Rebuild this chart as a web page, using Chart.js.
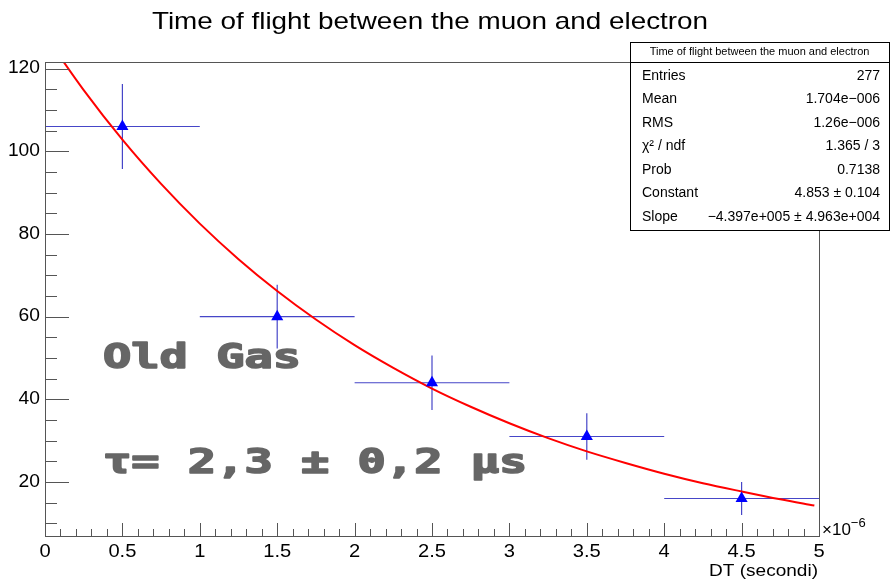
<!DOCTYPE html>
<html>
<head>
<meta charset="utf-8">
<script src="https://cdn.jsdelivr.net/npm/chart.js@4"></script>
<style>
  html, body { margin: 0; padding: 0; background: #fff; }
  #wrap { width: 892px; height: 579px; }
</style>
</head>
<body>
<div id="wrap"><canvas id="tof" width="892" height="579"></canvas></div>
<script>
// measured points (x in microseconds)
const binCenters = [0.5, 1.5, 2.5, 3.5, 4.5];
const counts = [106, 60, 44, 31, 16];
const countErr = [10.3, 7.7, 6.6, 5.6, 4.0];
const binHalfWidth = [0.5, 0.5, 0.5, 0.5, 0.5];

// fit curve
const fitX = [0, 0.25, 0.5, 0.75, 1, 1.25, 1.5, 1.75, 2, 2.25, 2.5, 2.75, 3, 3.25, 3.5, 3.75, 4, 4.25, 4.5, 4.75, 4.97];
const fitY = [128.1, 114.8, 102.8, 92.1, 82.5, 73.9, 66.2, 59.3, 53.1, 47.6, 42.6, 38.2, 34.2, 30.6, 27.4, 24.6, 22.0, 19.7, 17.7, 15.8, 14.3];

// axis labels
const xTickLabels = ['0', '0.5', '1', '1.5', '2', '2.5', '3', '3.5', '4', '4.5', '5'];
const yTickLabels = ['20', '40', '60', '80', '100', '120'];

// stats box
const statsTitle = 'Time of flight between the muon and electron';
const statsNames = ['Entries', 'Mean', 'RMS', 'χ² / ndf', 'Prob', 'Constant', 'Slope'];
const statsValues = ['277', '1.704e\u2212006', '1.26e\u2212006', '1.365 / 3', '0.7138', '4.853 \u00b1 0.104', '\u22124.397e+005 \u00b1 4.963e+004'];

const sans = '"Liberation Sans", Arial, sans-serif';
const mono = '"DejaVu Sans Mono", monospace';

// text drawn a little wider than the font, like the stretched original
function wideText(ctx, text, x, y, align, sx) {
  const w = ctx.measureText(text).width * sx;
  let left = x;
  if (align === 'center') left = x - w / 2;
  if (align === 'right') left = x - w;
  ctx.save();
  ctx.textAlign = 'left';
  ctx.translate(left, y);
  ctx.scale(sx, 1);
  ctx.fillText(text, 0, 0);
  ctx.restore();
}

const rootLook = {
  id: 'rootLook',
  beforeDatasetsDraw(chart) {
    const { ctx } = chart;
    const xs = chart.scales.x, ys = chart.scales.y;
    ctx.save();
    ctx.strokeStyle = '#4646c8';
    ctx.lineWidth = 1.2;
    binCenters.forEach((c, i) => {
      const px = xs.getPixelForValue(c), py = ys.getPixelForValue(counts[i]);
      ctx.beginPath();
      ctx.moveTo(xs.getPixelForValue(c - binHalfWidth[i]), py);
      ctx.lineTo(xs.getPixelForValue(c + binHalfWidth[i]), py);
      ctx.moveTo(px, ys.getPixelForValue(counts[i] + countErr[i]));
      ctx.lineTo(px, ys.getPixelForValue(counts[i] - countErr[i]));
      ctx.stroke();
    });
    ctx.restore();
  },
  afterDraw(chart) {
    const { ctx, chartArea: a } = chart;
    const xs = chart.scales.x, ys = chart.scales.y;
    ctx.save();

    // frame
    ctx.strokeStyle = '#555';
    ctx.lineWidth = 1;
    ctx.strokeRect(a.left + 0.5, a.top + 0.5, a.right - a.left, a.bottom - a.top);

    // ticks inside the frame
    ctx.beginPath();
    for (let k = 0; k <= 50; k++) {
      const v = k / 10;
      const px = Math.round(xs.getPixelForValue(v)) + 0.5;
      const len = k % 5 === 0 ? 13 : 7;
      ctx.moveTo(px, a.bottom);
      ctx.lineTo(px, a.bottom - len);
    }
    for (let v = 10; v <= 120; v += 5) {
      const py = Math.round(ys.getPixelForValue(v)) + 0.5;
      const len = v % 20 === 0 ? 24 : 12;
      ctx.moveTo(a.left, py);
      ctx.lineTo(a.left + len, py);
    }
    ctx.stroke();

    // tick labels
    ctx.fillStyle = '#000';
    ctx.font = '17.5px ' + sans;
    ctx.textBaseline = 'alphabetic';
    xTickLabels.forEach(t => wideText(ctx, t, xs.getPixelForValue(parseFloat(t)), 557, 'center', 1.15));
    ctx.textBaseline = 'middle';
    yTickLabels.forEach(t => wideText(ctx, t, 40, ys.getPixelForValue(parseFloat(t)), 'right', 1.1));

    // exponent and axis title
    ctx.textAlign = 'left';
    ctx.textBaseline = 'alphabetic';
    ctx.font = '17px ' + sans;
    ctx.fillText('\u00d710', 822, 535);
    const w10 = ctx.measureText('\u00d710').width;
    ctx.font = '13px ' + sans;
    ctx.fillText('\u22126', 822 + w10, 527);
    ctx.font = '17px ' + sans;
    wideText(ctx, 'DT (secondi)', 818, 576, 'right', 1.12);

    // title
    ctx.font = '24px ' + sans;
    wideText(ctx, 'Time of flight between the muon and electron', 430, 29, 'center', 1.16);

    // stats box
    const bx = 630, by = 42, bw = 259, bh = 188;
    ctx.fillStyle = '#fff';
    ctx.fillRect(bx, by, bw, bh);
    ctx.strokeStyle = '#000';
    ctx.strokeRect(bx + 0.5, by + 0.5, bw, bh);
    ctx.beginPath();
    ctx.moveTo(bx, 62.5);
    ctx.lineTo(bx + bw, 62.5);
    ctx.stroke();
    ctx.fillStyle = '#000';
    ctx.font = '11px ' + sans;
    ctx.textAlign = 'center';
    ctx.textBaseline = 'middle';
    ctx.fillText(statsTitle, bx + bw / 2, 52);
    ctx.font = '14px ' + sans;
    statsNames.forEach((n, i) => {
      const ry = 76 + i * 23.5;
      ctx.textAlign = 'left';
      ctx.fillText(n, 642, ry);
      ctx.textAlign = 'right';
      ctx.fillText(statsValues[i], 880, ry);
    });

    // big annotations
    ctx.fillStyle = '#666';
    ctx.strokeStyle = '#666';
    ctx.font = 'bold 34px ' + mono;
    ctx.textAlign = 'left';
    ctx.textBaseline = 'alphabetic';
    const sx = 198 / ctx.measureText('Old Gas').width;
    ctx.save();
    ctx.translate(103, 0);
    ctx.scale(sx, 1);
    ctx.lineWidth = 1.6;
    ctx.lineJoin = 'round';
    ['Old Gas', '\u03c4= 2,3 \u00b1 0,2 \u00b5s'].forEach((t, i) => {
      const y = i === 0 ? 368 : 473;
      ctx.fillText(t, 0, y);
      ctx.strokeText(t, 0, y);
    });
    ctx.restore();

    ctx.restore();
  }
};

new Chart(document.getElementById('tof'), {
  type: 'scatter',
  data: {
    datasets: [{
      label: 'data',
      data: binCenters.map((c, i) => ({ x: c, y: counts[i] })),
      pointStyle: 'triangle',
      pointRadius: 7,
      backgroundColor: '#0000ff',
      borderColor: '#0000ff',
      borderWidth: 0
    }, {
      label: 'fit',
      data: fitX.map((x, i) => ({ x: x, y: fitY[i] })),
      showLine: true,
      pointRadius: 0,
      borderColor: '#ff0000',
      borderWidth: 2,
      cubicInterpolationMode: 'monotone'
    }]
  },
  options: {
    responsive: false,
    animation: false,
    events: [],
    layout: { padding: { left: 45, top: 62, right: 73, bottom: 43 } },
    plugins: { legend: { display: false }, title: { display: false }, tooltip: { enabled: false } },
    scales: {
      x: { type: 'linear', min: 0, max: 5, display: false },
      y: { type: 'linear', min: 6.93, max: 121.6, display: false }
    }
  },
  plugins: [rootLook]
});
</script>
</body>
</html>
